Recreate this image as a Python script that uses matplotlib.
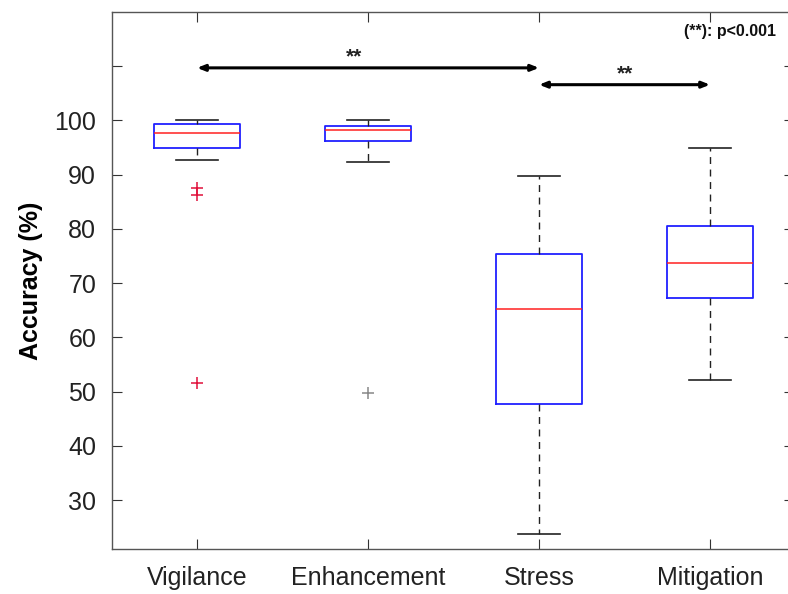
import matplotlib
matplotlib.use("Agg")
import matplotlib.pyplot as plt

# Accuracy per condition
categories = ["Vigilance", "Enhancement", "Stress", "Mitigation"]
whisker_low = [92.8, 92.4, 23.8, 52.1]
q1 = [95.0, 96.3, 47.7, 67.3]
median = [97.7, 98.2, 65.2, 73.7]
q3 = [99.4, 98.9, 75.3, 80.5]
whisker_high = [100.0, 100.0, 89.8, 94.9]
outliers = [[87.5, 86.3, 51.6], [49.8], [], []]

y_ticks = [30, 40, 50, 60, 70, 80, 90, 100, 110]
y_tick_labels = ["30", "40", "50", "60", "70", "80", "90", "100", ""]

# Significance brackets: (from group, to group, star label)
comparisons = [(1, 3, "**"), (3, 4, "**")]
note = "(**): p<0.001"

plt.rcParams["font.family"] = ["Liberation Sans", "DejaVu Sans"]

fig = plt.figure(figsize=(7.88, 5.94), dpi=100)
W, H = 788, 594
ax = fig.add_axes([111.5 / W, 45 / H, (793.5 - 111.5) / W, (549 - 12) / H])

stats = []
for i, name in enumerate(categories):
    stats.append(dict(label=name, med=median[i], q1=q1[i], q3=q3[i],
                      whislo=whisker_low[i], whishi=whisker_high[i],
                      fliers=outliers[i]))

positions = list(range(1, len(categories) + 1))
art = ax.bxp(stats, positions=positions, widths=0.5, capwidths=0.25,
             showfliers=True, patch_artist=False,
             boxprops=dict(color="#2020ff", linewidth=1.3),
             medianprops=dict(color="#ff2020", linewidth=1.1),
             whiskerprops=dict(color="#222222", linewidth=1.0,
                               linestyle=(0, (5, 4))),
             capprops=dict(color="#222222", linewidth=1.2),
             flierprops=dict(marker="+", markersize=8, markeredgewidth=1.1,
                             markeredgecolor="#e0103a", linestyle="none"))
flier_colors = ["#e0103a", "#888888", "#888888", "#888888"]
for line, c in zip(art["fliers"], flier_colors):
    line.set_markeredgecolor(c)

ax.set_xlim(0.5, 4.488)
ax.set_ylim(21, 120)
ax.set_yticks(y_ticks)
ax.set_yticklabels(y_tick_labels)
ax.set_xticks(positions)
ax.set_xticklabels(categories)
ax.tick_params(axis="both", direction="in", length=7, width=0.8,
               colors="#333333", labelcolor="#222222", labelsize=18,
               top=True, right=True)
ax.tick_params(axis="y", pad=11)
ax.tick_params(axis="x", pad=12)
for s in ax.spines.values():
    s.set_color("#555555")
    s.set_linewidth(1.0)

ax.set_ylabel("Accuracy (%)", fontsize=18, fontweight="bold", labelpad=8)

# Significance arrows
levels = [109.7, 106.6]
for (a, b, lab), y in zip(comparisons, levels):
    ax.annotate("", xy=(b, y), xytext=(a, y),
                arrowprops=dict(arrowstyle="<|-|>,head_length=0.45,head_width=0.18",
                                color="black", lw=2.2,
                                shrinkA=0, shrinkB=0))
    xm = (a + b) / 2 - 0.08 if b - a > 1 else (a + b) / 2
    ax.text(xm, y + 0.2, lab, ha="center", va="bottom", fontsize=15,
            fontweight="bold", color="#222222")

ax.text(0.975, 0.978, note, transform=ax.transAxes, ha="right", va="top",
        fontsize=11.5, fontweight="bold", color="#111111")

fig.savefig("out.png", dpi=100, facecolor="white")
